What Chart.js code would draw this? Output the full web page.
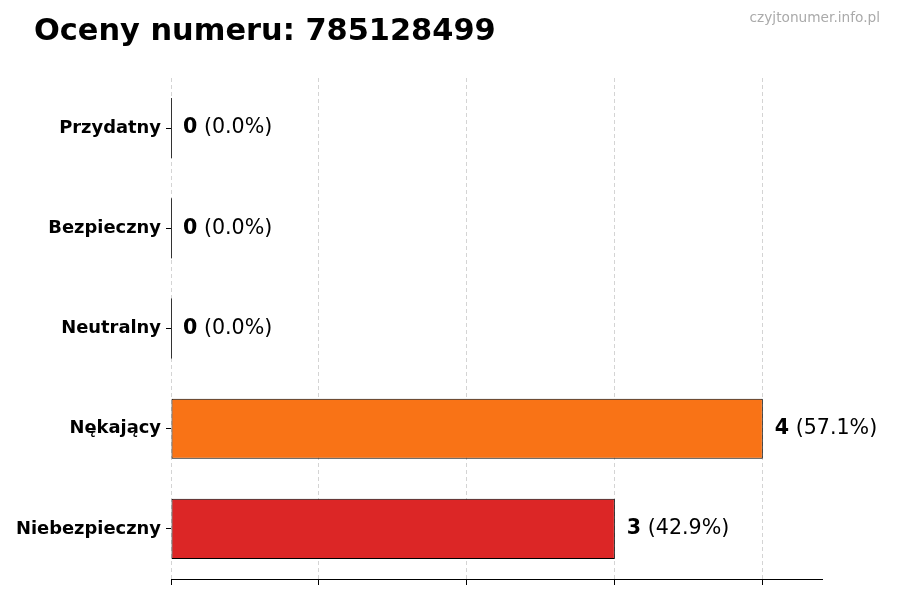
<!DOCTYPE html>
<html>
<head>
<meta charset="utf-8">
<script src="https://cdn.jsdelivr.net/npm/chart.js@4/dist/chart.umd.min.js"></script>
<style>
  html, body { margin: 0; padding: 0; background: #fff; }
  #wrap { width: 900px; height: 600px; }
</style>
</head>
<body>
<div id="wrap"><canvas id="ocenyChart"></canvas></div>
<script>
// dane z wykresu
const kategorie = ['Przydatny', 'Bezpieczny', 'Neutralny', 'Nękający', 'Niebezpieczny'];
const liczby = [0, 0, 0, 4, 3];
const kolory = ['#22c55e', '#3b82f6', '#9ca3af', '#f97316', '#dc2626'];
const tytul = 'Oceny numeru: 785128499';
const znakWodny = 'czyjtonumer.info.pl';

const suma = liczby.reduce((a, b) => a + b, 0);

// etykiety wartości + tytuł
const etykietyPlugin = {
  id: 'etykiety',
  afterDatasetsDraw(chart) {
    const ctx = chart.ctx;
    const meta = chart.getDatasetMeta(0);
    ctx.save();
    meta.data.forEach((bar, i) => {
      const v = liczby[i];
      const proc = suma ? (v / suma * 100).toFixed(1) : '0.0';
      // cienka linia dla pustych słupków
      if (v === 0) {
        ctx.strokeStyle = '#333';
        ctx.lineWidth = 1;
        ctx.beginPath();
        ctx.moveTo(bar.base + 0.5, bar.y - bar.height / 2);
        ctx.lineTo(bar.base + 0.5, bar.y + bar.height / 2);
        ctx.stroke();
      }
      const x = bar.x + 12;
      ctx.textBaseline = 'middle';
      ctx.textAlign = 'left';
      ctx.fillStyle = '#000';
      ctx.font = 'bold 20.6px "DejaVu Sans"';
      const txt = String(v);
      ctx.fillText(txt, x, bar.y);
      const w = ctx.measureText(txt).width;
      ctx.font = '20.6px "DejaVu Sans"';
      ctx.fillText(' (' + proc + '%)', x + w, bar.y);
    });
    ctx.restore();
  },
  afterDraw(chart) {
    const ctx = chart.ctx;
    ctx.save();
    ctx.fillStyle = '#000';
    ctx.font = 'bold 30.4px "DejaVu Sans"';
    ctx.textBaseline = 'alphabetic';
    ctx.textAlign = 'left';
    ctx.fillText(tytul, 34, 40);
    ctx.fillStyle = '#aaaaaa';
    ctx.font = '13.7px "DejaVu Sans"';
    ctx.textAlign = 'right';
    ctx.fillText(znakWodny, 880, 22);
    ctx.restore();
  }
};

const ctxOceny = document.getElementById('ocenyChart').getContext('2d');
new Chart(ctxOceny, {
  type: 'bar',
  data: {
    labels: kategorie,
    datasets: [{
      data: liczby,
      backgroundColor: kolory,
      borderColor: '#000',
      borderWidth: 1,
      borderSkipped: false,
      barPercentage: 1.0,
      categoryPercentage: 0.6
    }]
  },
  options: {
    indexAxis: 'y',
    responsive: true,
    maintainAspectRatio: false,
    animation: false,
    layout: { padding: { top: 78, right: 78, bottom: 15, left: 0 } },
    plugins: {
      legend: { display: false },
      tooltip: { enabled: false }
    },
    scales: {
      x: {
        min: 0,
        max: 4.4,
        ticks: { display: false, stepSize: 1, includeBounds: false },
        grid: {
          color: '#d4d4d4',
          drawTicks: true,
          tickLength: 6,
          tickColor: '#000',
          tickBorderDash: []
        },
        border: { display: true, color: '#000', width: 1, dash: [4, 3] }
      },
      y: {
        ticks: {
          color: '#000',
          padding: 5,
          font: { family: 'DejaVu Sans', size: 17.9, weight: 'bold' }
        },
        grid: { offset: false, drawOnChartArea: false, drawTicks: true, tickLength: 5, tickColor: '#000' },
        border: { display: false },
        afterFit(scale) { scale.width = 171; }
      }
    }
  },
  plugins: [etykietyPlugin]
});
</script>
</body>
</html>
